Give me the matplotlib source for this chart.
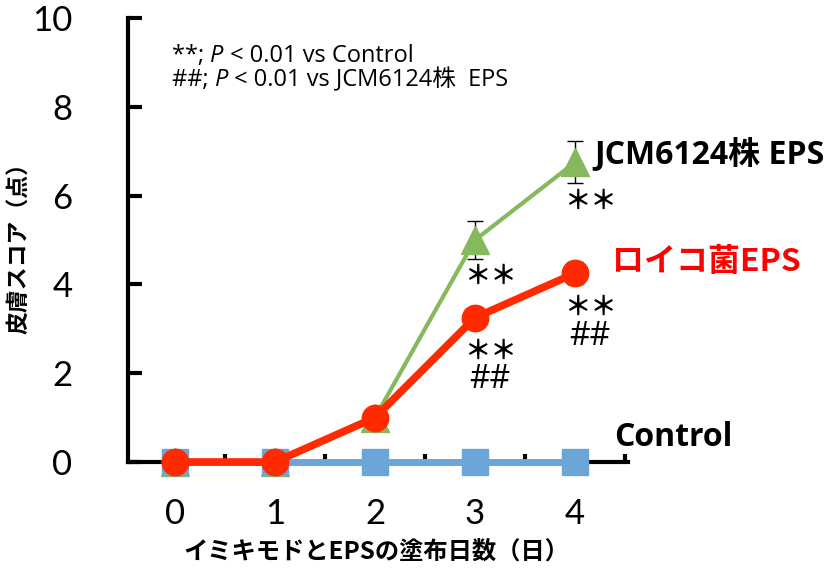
import matplotlib
matplotlib.use("Agg")
import matplotlib.pyplot as plt
import numpy as np

plt.rcParams['font.family'] = ['Lato', 'Noto Sans CJK JP', 'DejaVu Sans']

days = [0, 1, 2, 3, 4]
day_labels = ["0", "1", "2", "3", "4"]
control = [0, 0, 0, 0, 0]
leuco = [0, 0, 1.0, 3.25, 4.25]
leuco_err = [0, 0, 0, 0.2, 0.25]
jcm = [0, 0, 1.0, 5.0, 6.75]
jcm_err = [0, 0, 0, 0.42, 0.47]
yticks = [0, 2, 4, 6, 8, 10]

fig = plt.figure(figsize=(8.36, 5.77), dpi=100)
ax = fig.add_axes([128/836, (577-462)/577, 500/836, (462-18)/577])

green = '#86B95E'
blue = '#6CA6D9'
red = '#FF2A00'

e1 = ax.errorbar(days, jcm, yerr=jcm_err, color=green, lw=3, marker='^', ms=20,
                 mec=green, mfc=green, ecolor='black', elinewidth=1, capsize=5.5, capthick=1, zorder=3)
l2, = ax.plot(days, control, color=blue, lw=5, marker='s', ms=18.5, mec=blue, mfc=blue, zorder=4)
e3 = ax.errorbar(days, leuco, yerr=leuco_err, color=red, lw=5.5, marker='o', ms=19,
                 mec=red, mfc=red, ecolor='black', elinewidth=1, capsize=5.5, capthick=1, zorder=5)
for art in [e1, e3]:
    for child in art.get_children():
        child.set_clip_on(False)
l2.set_clip_on(False)

ax.set_xlim(-0.47, 4.53)
ax.set_ylim(0, 10)
ax.set_yticks(yticks)
ax.set_yticklabels([str(v) for v in yticks], fontsize=25, family=['Lato'])
ax.set_xticks([0.5, 1.5, 2.5, 3.5, 4.5])
ax.set_xticklabels([])
ax.tick_params(axis='x', direction='in', length=6, width=3)
ax.tick_params(axis='y', direction='in', length=10, width=3, pad=40)
for i, lab in enumerate(day_labels):
    ax.text(days[i], -0.8, lab, ha='center', va='top', fontsize=25, family=['Lato'])
for s in ['top', 'right']:
    ax.spines[s].set_visible(False)
for s in ['left', 'bottom']:
    ax.spines[s].set_linewidth(3)

fig.text(20/836, 1-243/577, '皮膚スコア（点）', rotation=90, ha='center', va='center',
         fontsize=16.5, fontweight='bold', family=['Noto Sans CJK JP'])
fig.text(376/836, 1-552/577, 'イミキモドとEPSの塗布日数（日）', ha='center', va='center',
         fontsize=17.5, fontweight='bold', family=['Noto Sans CJK JP'])

# significance legend, composed of pieces so that P is italic
note_fs = 17
fam = ['Open Sans', 'Noto Sans CJK JP']
lines = [['**; ', 'P', ' < 0.01 vs Control'],
         ['##; ', 'P', ' < 0.01 vs JCM6124株  EPS']]
ys = [1-62/577, 1-86/577]
for parts, yy in zip(lines, ys):
    t = fig.text(172/836, yy, parts[0], ha='left', va='baseline', fontsize=note_fs, family=fam)
    t = ax.annotate(parts[1], xy=(1, 0), xycoords=t, ha='left', va='bottom',
                    fontsize=note_fs, family=fam, style='italic')
    t = ax.annotate(parts[2], xy=(1, 0), xycoords=t, ha='left', va='bottom',
                    fontsize=note_fs, family=fam)

ax.text(4.19, 6.91, 'JCM6124株 EPS', ha='left', va='center', fontsize=23, fontweight='bold',
        family=['Open Sans', 'Noto Sans CJK JP'], clip_on=False)
ax.text(4.37, 4.5, 'ロイコ菌EPS', ha='left', va='center', fontsize=23, fontweight='bold',
        color='#FF0000', family=['Noto Sans CJK JP'], clip_on=False)
ax.text(4.39, 0.56, 'Control', ha='left', va='center', fontsize=23, fontweight='bold',
        family=['Open Sans'], clip_on=False)

star_kw = dict(ha='center', va='center', fontsize=19, fontweight='bold', family=['Noto Sans CJK JP'])
hash_kw = dict(ha='center', va='center', fontsize=23, family=['Open Sans'])

dx = 0.15
ax.text(days[3] + dx, 4.17, '＊＊', **star_kw)
ax.text(days[3] + dx, 2.50, '＊＊', **star_kw)
ax.text(days[3] + dx, 1.85, '##', **hash_kw)
ax.text(days[4] + dx, 5.86, '＊＊', **star_kw)
ax.text(days[4] + dx, 3.49, '＊＊', **star_kw)
ax.text(days[4] + dx, 2.82, '##', **hash_kw)

fig.savefig('out.png', dpi=100)
